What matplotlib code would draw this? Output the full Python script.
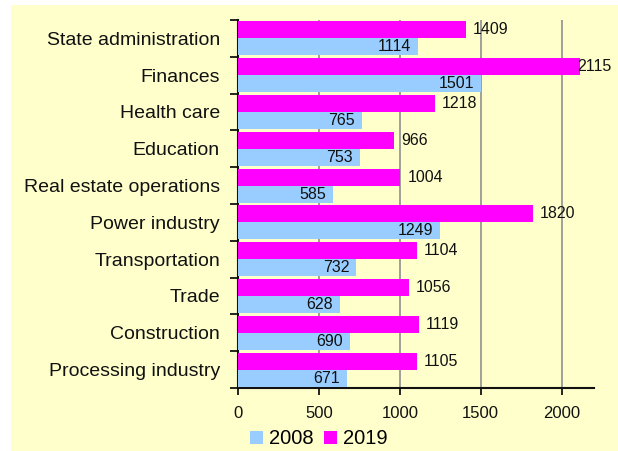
import matplotlib
matplotlib.use("Agg")
import matplotlib.pyplot as plt
from matplotlib.patches import Rectangle, Patch

categories = ["State administration", "Finances", "Health care", "Education",
              "Real estate operations", "Power industry", "Transportation",
              "Trade", "Construction", "Processing industry"]
v2008 = [1114, 1501, 765, 753, 585, 1249, 732, 628, 690, 671]
v2019 = [1409, 2115, 1218, 966, 1004, 1820, 1104, 1056, 1119, 1105]
xticks = [0, 500, 1000, 1500, 2000]

plt.rcParams['font.family'] = ['Liberation Sans', 'DejaVu Sans']

W, H = 618, 451
fig = plt.figure(figsize=(W/100, H/100), dpi=100)
fig.patch.set_facecolor('white')
bg = '#FFFFCC'
fig.patches.append(Rectangle((11/W, 0), 1 - 11/W, 1 - 5/H, transform=fig.transFigure,
                             facecolor=bg, edgecolor='none', zorder=-10))

ax = fig.add_axes([238/W, 1 - 388/H, (594-238)/W, (388-20)/H])
ax.set_facecolor(bg)

n = len(categories)
bh = 0.46
ypos = list(range(n))
c08 = '#99CCFF'
c19 = '#FF00FF'
ax.barh([y + bh/2 for y in ypos], v2008, height=bh, color=c08, zorder=3)
ax.barh([y - bh/2 for y in ypos], v2019, height=bh, color=c19, zorder=3)

for y, v in zip(ypos, v2008):
    ax.annotate(str(v), (v, y + bh/2), xytext=(-5, 0), textcoords='offset points',
                ha='right', va='center', fontsize=11.5, color='#111111', zorder=4)
labels19 = []
for y, v in zip(ypos, v2019):
    t = ax.annotate(str(v), (v, y - bh/2), xytext=(5, 0), textcoords='offset points',
                    ha='left', va='center', fontsize=11.5, color='#111111', zorder=4,
                    annotation_clip=False)
    labels19.append(t)

ax.set_xlim(0, 2200)
ax.set_ylim(n - 0.5, -0.5)
ax.set_xticks(xticks)
ax.set_xticklabels([str(t) for t in xticks], fontsize=12)
ax.set_yticks(ypos)
ax.set_yticklabels(categories, fontsize=14)
ax.tick_params(axis='y', length=0, pad=13)
ax.set_yticks([y - 0.5 for y in range(n + 1)], minor=True)
ax.tick_params(axis='y', which='minor', length=6, width=1.2, direction='out')
ax.tick_params(axis='x', length=5, width=1.2, direction='out', pad=8)
for t in ax.get_xticklabels() + ax.get_yticklabels():
    t.set_color('#111111')

ax.grid(axis='x', color='#999999', linewidth=1.3, zorder=0)
for s in ['top', 'right']:
    ax.spines[s].set_visible(False)
for s in ['left', 'bottom']:
    ax.spines[s].set_linewidth(1.5)
    ax.spines[s].set_color('#111111')

handles = [Patch(facecolor=c08, label='2008'), Patch(facecolor=c19, label='2019')]
fig.legend(handles=handles, loc='center', bbox_to_anchor=(319/W, 1 - 439/H),
           ncol=2, frameon=False, fontsize=14.5, handlelength=0.65, handleheight=0.65,
           handletextpad=0.3, columnspacing=0.5)

# keep value labels inside the figure (shift left if they would run off the edge)
fig.canvas.draw()
r = fig.canvas.get_renderer()
for t in labels19:
    bb = t.get_window_extent(r)
    over = bb.x1 - (W - 6)
    if over > 0:
        t.set_position((5 - over * 72 / 100, 0))

fig.savefig('out.png', dpi=100, facecolor=fig.get_facecolor())
